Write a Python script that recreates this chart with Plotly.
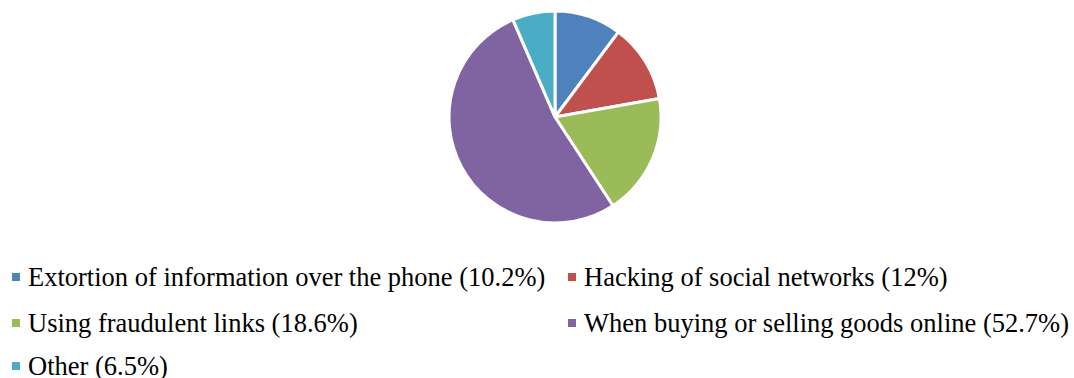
import plotly.graph_objects as go

labels = ["Extortion of information over the phone", "Hacking of social networks",
          "Using fraudulent links", "When buying or selling goods online", "Other"]
legend_text = ["Extortion of information over the phone (10.2%)", "Hacking of social networks (12%)",
               "Using fraudulent links (18.6%)", "When buying or selling goods online (52.7%)", "Other (6.5%)"]
values = [10.2, 12, 18.6, 52.7, 6.5]
colors = ["#4F81BD", "#C0504D", "#9BBB59", "#8064A2", "#4BACC6"]

W, H = 1074, 378
cx, cy, r = 555, 117, 106
FONT = "Liberation Serif"

fig = go.Figure(go.Pie(
    labels=labels, values=values, sort=False, direction="clockwise", rotation=0,
    marker=dict(colors=colors, line=dict(color="white", width=3)),
    textinfo="none", hoverinfo="label+percent", showlegend=False,
    domain=dict(x=[(cx - r) / W, (cx + r) / W], y=[1 - (cy + r) / H, 1 - (cy - r) / H]),
))

col_x = [12, 568]
row_y = [277, 323, 366]
shapes, annotations = [], []
for i, (t, c) in enumerate(zip(legend_text, colors)):
    x0 = col_x[i % 2]
    y0 = row_y[i // 2]
    shapes.append(dict(type="rect", xref="paper", yref="paper",
                       x0=x0 / W, x1=(x0 + 8) / W, y0=1 - (y0 + 4) / H, y1=1 - (y0 - 4) / H,
                       fillcolor=c, line=dict(width=0)))
    annotations.append(dict(xref="paper", yref="paper", x=(x0 + 14) / W, y=1 - y0 / H,
                            xanchor="left", yanchor="middle", showarrow=False, text=t,
                            font=dict(family=FONT, size=26.5, color="black")))

fig.update_layout(width=W, height=H, margin=dict(l=0, r=0, t=0, b=0),
                  font=dict(family=FONT, size=26.5, color="black"),
                  paper_bgcolor="white", plot_bgcolor="white",
                  shapes=shapes, annotations=annotations)
fig.write_html("out.html")
